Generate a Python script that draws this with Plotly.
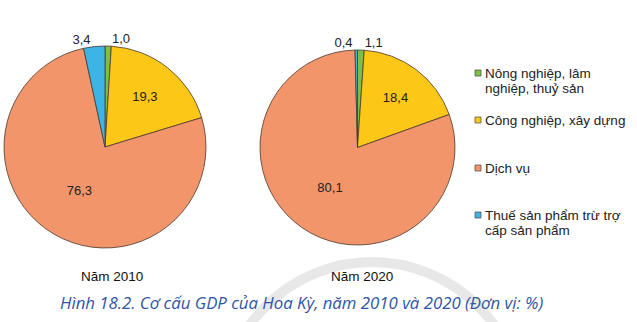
import plotly.graph_objects as go

W, H = 637, 322

categories = ["Nông nghiệp, lâm<br>nghiệp, thuỷ sản", "Công nghiệp, xây dựng", "Dịch vụ",
              "Thuế sản phẩm trừ trợ<br>cấp sản phẩm"]
values_2010 = [1.0, 19.3, 76.3, 3.4]
values_2020 = [1.1, 18.4, 80.1, 0.4]
years = ["Năm 2010", "Năm 2020"]
colors = ["#7cc043", "#fdc718", "#f3956a", "#3cb4e6"]
caption = "Hình 18.2. Cơ cấu GDP của Hoa Kỳ, năm 2010 và 2020 (Đơn vị: %)"


def px_dom(x0, x1, y0, y1):
    return dict(x=[x0 / W, x1 / W], y=[1 - y1 / H, 1 - y0 / H])


def fmt(v):
    return f"{v:.1f}".replace(".", ",")


def pos(vals):
    return ["inside" if v > 10 else "outside" for v in vals]


fig = go.Figure()
doms = [px_dom(4, 206, 46, 248), px_dom(260, 455, 50, 245)]
for vals, dom in zip([values_2010, values_2020], doms):
    fig.add_trace(go.Pie(
        labels=categories, values=vals, sort=False, direction="clockwise",
        rotation=0, domain=dom,
        marker=dict(colors=colors, line=dict(color="#4a3a30", width=0.8)),
        text=[fmt(v) for v in vals], textinfo="text", textposition=pos(vals),
        insidetextorientation="horizontal",
        textfont=dict(family="Liberation Sans, Arial", size=13, color="#222"),
        showlegend=False, hoverinfo="label+value",
    ))

# watermark ring
fig.add_shape(type="circle", xref="paper", yref="paper",
              x0=(372 - 150) / W, x1=(372 + 150) / W, y0=1 - (412 + 150) / H, y1=1 - (412 - 150) / H,
              line=dict(color="#e8e8e8", width=10), layer="below")

# custom legend
leg_y = [73, 120, 168, 215]
for cat, col, yc in zip(categories, colors, leg_y):
    fig.add_shape(type="rect", xref="paper", yref="paper",
                  x0=475 / W, x1=481 / W, y0=1 - (yc + 3) / H, y1=1 - (yc - 3) / H,
                  fillcolor=col, line=dict(color="#555", width=0.8))
    for i, line in enumerate(cat.split("<br>")):
        fig.add_annotation(x=483 / W, y=1 - (yc + 15 * i) / H, xref="paper", yref="paper",
                           xanchor="left", yanchor="middle", align="left", showarrow=False,
                           text=line, font=dict(family="Liberation Sans, Arial", size=13.5, color="#222"))

for t, xc in zip(years, [112, 362]):
    fig.add_annotation(x=xc / W, y=1 - 276 / H, xref="paper", yref="paper", showarrow=False,
                       xanchor="center", yanchor="middle",
                       text=t, font=dict(family="Liberation Sans, Arial", size=13.5, color="#111"))

fig.add_annotation(x=301 / W, y=1 - 302 / H, xref="paper", yref="paper", showarrow=False,
                   xanchor="center", yanchor="middle",
                   text="<i>" + caption + "</i>",
                   font=dict(family="Open Sans", size=16.8, color="#2f56a6"))

fig.update_layout(width=W, height=H, margin=dict(l=0, r=0, t=0, b=0),
                  paper_bgcolor="white", plot_bgcolor="white")
fig.write_html("out.html")
